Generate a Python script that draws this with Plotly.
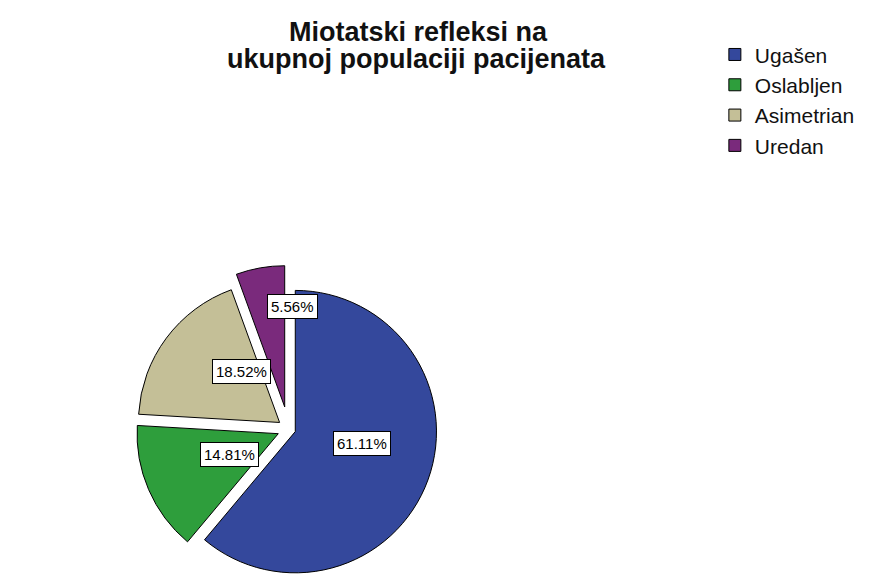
import math
import plotly.graph_objects as go

categories = ["Ugašen", "Oslabljen", "Asimetrian", "Uredan"]
counts = [33, 8, 10, 3]
colors = ["#34489c", "#2e9e3c", "#c4bf97", "#7a2a7c"]
pulls = [0.05, 0.08, 0.08, 0.16]
label_radius = [0.5, 0.6, 0.6, 0.72]

W, H = 877, 585
dom_x = [0.0, 0.64]
dom_y = [0.0, 0.56]
FONT = "Liberation Sans, Arial, sans-serif"

fig = go.Figure()
fig.add_trace(go.Pie(
    labels=categories,
    values=counts,
    sort=False,
    direction="clockwise",
    rotation=0,
    pull=pulls,
    marker=dict(colors=colors, line=dict(color="#000000", width=1)),
    textinfo="none",
    domain=dict(x=dom_x, y=dom_y),
    showlegend=True,
    hoverinfo="label+percent",
))

# boxed percentage labels placed at each slice's mid-angle (pie geometry)
total = sum(counts)
box_w = (dom_x[1] - dom_x[0]) * W
box_h = (dom_y[1] - dom_y[0]) * H
cx = (dom_x[0] + dom_x[1]) / 2 * W
cy = (dom_y[0] + dom_y[1]) / 2 * H
r = min(box_w, box_h) / (2 + 2 * max(pulls))
cum = 0.0
annotations = []
for cat, v, p, f in zip(categories, counts, pulls, label_radius):
    mid = (cum + v / 2) / total * 2 * math.pi
    cum += v
    rr = (p + f) * r
    x = cx + rr * math.sin(mid)
    y = cy + rr * math.cos(mid)
    annotations.append(dict(
        x=x / W, y=y / H, xref="paper", yref="paper",
        text=f"{v / total * 100:.2f}%", showarrow=False,
        font=dict(family=FONT, size=15, color="#000000"),
        bgcolor="white", bordercolor="#000000", borderwidth=1, borderpad=3,
    ))

annotations.append(dict(
    x=410 / W, y=1 - 24 / H, xref="paper", yref="paper",
    text="<b>Miotatski refleksi na</b>", showarrow=False,
    font=dict(family=FONT, size=27, color="#111111"), yanchor="middle",
))
annotations.append(dict(
    x=408 / W, y=1 - 51 / H, xref="paper", yref="paper",
    text="<b>ukupnoj populaciji pacijenata</b>", showarrow=False,
    font=dict(family=FONT, size=27, color="#111111"), yanchor="middle",
))

fig.update_layout(
    width=W, height=H,
    paper_bgcolor="white",
    plot_bgcolor="white",
    margin=dict(l=0, r=0, t=0, b=0),
    annotations=annotations,
    legend=dict(
        x=0.806, xanchor="left", y=0.955, yanchor="top",
        font=dict(family=FONT, size=21, color="#111111"),
        itemwidth=30, tracegroupgap=0,
        bgcolor="rgba(0,0,0,0)",
    ),
)

fig.write_html("out.html")
